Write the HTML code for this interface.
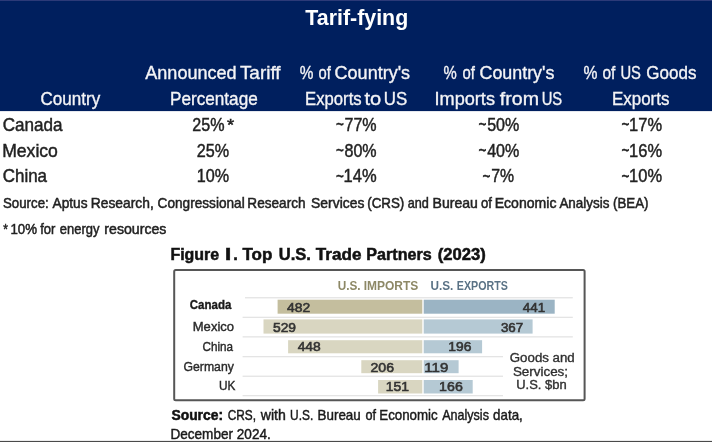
<!DOCTYPE html>
<html><head><meta charset="utf-8"><title>Tarif-fying</title>
<style>
html,body{margin:0;padding:0;background:#fff;overflow:hidden}
body{width:712px;height:442px;font-family:"Liberation Sans",sans-serif}
svg{display:block;font-family:"Liberation Sans",sans-serif;filter:blur(0.45px)}
text{white-space:pre}
</style></head><body>
<svg width="712" height="442" viewBox="0 0 712 442">
<rect x="0" y="0" width="712" height="442" fill="#ffffff"/>
<rect x="0" y="0" width="712" height="111.1" fill="#001f5e"/>
<rect x="0" y="0" width="712" height="1" fill="#2c3a78"/>
<rect x="0" y="440.9" width="712" height="2" fill="#4a4a4a"/>
<g>
<text x="305.30" y="25.3" font-size="21.3" fill="#ffffff" font-weight="700" textLength="102.91" lengthAdjust="spacingAndGlyphs">Tarif-fying</text>
<text x="145.30" y="78.6" font-size="18.2" fill="#f4f4f6" stroke="#f4f4f6" stroke-width="0.35" textLength="91.31" lengthAdjust="spacingAndGlyphs">Announced</text>
<text x="239.90" y="78.6" font-size="18.2" fill="#f4f4f6" stroke="#f4f4f6" stroke-width="0.35" textLength="40.71" lengthAdjust="spacingAndGlyphs">Tariff</text>
<text x="170.06" y="104.6" font-size="18.2" fill="#f4f4f6" stroke="#f4f4f6" stroke-width="0.35" textLength="87.65" lengthAdjust="spacingAndGlyphs">Percentage</text>
<text x="40.50" y="104.6" font-size="18.2" fill="#f4f4f6" stroke="#f4f4f6" stroke-width="0.35" textLength="59.65" lengthAdjust="spacingAndGlyphs">Country</text>
<text x="299.70" y="78.6" font-size="18.2" fill="#f4f4f6" stroke="#f4f4f6" stroke-width="0.35" textLength="13.64" lengthAdjust="spacingAndGlyphs">%</text>
<text x="318.60" y="78.6" font-size="18.2" fill="#f4f4f6" stroke="#f4f4f6" stroke-width="0.35" textLength="12.33" lengthAdjust="spacingAndGlyphs">of</text>
<text x="334.60" y="78.6" font-size="18.2" fill="#f4f4f6" stroke="#f4f4f6" stroke-width="0.35" textLength="75.49" lengthAdjust="spacingAndGlyphs">Country's</text>
<text x="305.08" y="104.6" font-size="18.2" fill="#f4f4f6" stroke="#f4f4f6" stroke-width="0.35" textLength="56.60" lengthAdjust="spacingAndGlyphs">Exports</text>
<text x="364.40" y="104.6" font-size="18.2" fill="#f4f4f6" stroke="#f4f4f6" stroke-width="0.35" textLength="16.73" lengthAdjust="spacingAndGlyphs">to</text>
<text x="383.77" y="104.6" font-size="18.2" fill="#f4f4f6" stroke="#f4f4f6" stroke-width="0.35" textLength="23.45" lengthAdjust="spacingAndGlyphs">US</text>
<text x="443.40" y="78.6" font-size="18.2" fill="#f4f4f6" stroke="#f4f4f6" stroke-width="0.35" textLength="13.24" lengthAdjust="spacingAndGlyphs">%</text>
<text x="462.40" y="78.6" font-size="18.2" fill="#f4f4f6" stroke="#f4f4f6" stroke-width="0.35" textLength="12.42" lengthAdjust="spacingAndGlyphs">of</text>
<text x="479.50" y="78.6" font-size="18.2" fill="#f4f4f6" stroke="#f4f4f6" stroke-width="0.35" textLength="74.89" lengthAdjust="spacingAndGlyphs">Country's</text>
<text x="434.50" y="104.6" font-size="18.2" fill="#f4f4f6" stroke="#f4f4f6" stroke-width="0.35" textLength="60.49" lengthAdjust="spacingAndGlyphs">Imports</text>
<text x="499.80" y="104.6" font-size="18.2" fill="#f4f4f6" stroke="#f4f4f6" stroke-width="0.35" textLength="39.14" lengthAdjust="spacingAndGlyphs">from</text>
<text x="541.69" y="104.6" font-size="18.2" fill="#f4f4f6" stroke="#f4f4f6" stroke-width="0.35" textLength="20.52" lengthAdjust="spacingAndGlyphs">US</text>
<text x="583.40" y="78.6" font-size="18.2" fill="#f4f4f6" stroke="#f4f4f6" stroke-width="0.35" textLength="13.95" lengthAdjust="spacingAndGlyphs">%</text>
<text x="602.50" y="78.6" font-size="18.2" fill="#f4f4f6" stroke="#f4f4f6" stroke-width="0.35" textLength="12.89" lengthAdjust="spacingAndGlyphs">of</text>
<text x="620.39" y="78.6" font-size="18.2" fill="#f4f4f6" stroke="#f4f4f6" stroke-width="0.35" textLength="20.52" lengthAdjust="spacingAndGlyphs">US</text>
<text x="646.30" y="78.6" font-size="18.2" fill="#f4f4f6" stroke="#f4f4f6" stroke-width="0.35" textLength="50.09" lengthAdjust="spacingAndGlyphs">Goods</text>
<text x="611.97" y="104.6" font-size="18.2" fill="#f4f4f6" stroke="#f4f4f6" stroke-width="0.35" textLength="57.42" lengthAdjust="spacingAndGlyphs">Exports</text>
<text x="2.70" y="130.5" font-size="18.2" fill="#222222" stroke="#222222" stroke-width="0.45" textLength="59.87" lengthAdjust="spacingAndGlyphs">Canada</text>
<text x="2.13" y="156.5" font-size="18.2" fill="#222222" stroke="#222222" stroke-width="0.45" textLength="55.78" lengthAdjust="spacingAndGlyphs">Mexico</text>
<text x="2.70" y="182.4" font-size="18.2" fill="#222222" stroke="#222222" stroke-width="0.45" textLength="44.37" lengthAdjust="spacingAndGlyphs">China</text>
<text x="192.30" y="130.5" font-size="18.2" fill="#222222" stroke="#222222" stroke-width="0.45" textLength="32.25" lengthAdjust="spacingAndGlyphs">25%</text>
<text x="226.90" y="130.5" font-size="16" fill="#222222" stroke="#222222" stroke-width="0.45" textLength="7.16" lengthAdjust="spacingAndGlyphs">*</text>
<text x="196.70" y="156.5" font-size="18.2" fill="#222222" stroke="#222222" stroke-width="0.45" textLength="32.35" lengthAdjust="spacingAndGlyphs">25%</text>
<text x="196.71" y="182.4" font-size="18.2" fill="#222222" stroke="#222222" stroke-width="0.45" textLength="32.34" lengthAdjust="spacingAndGlyphs">10%</text>
<text x="335.90" y="129.7" font-size="18.2" fill="#222222" stroke="#222222" stroke-width="0.5" textLength="7.86" lengthAdjust="spacingAndGlyphs">~</text>
<text x="344.50" y="130.5" font-size="18.2" fill="#222222" stroke="#222222" stroke-width="0.45" textLength="32.15" lengthAdjust="spacingAndGlyphs">77%</text>
<text x="335.90" y="155.7" font-size="18.2" fill="#222222" stroke="#222222" stroke-width="0.5" textLength="7.86" lengthAdjust="spacingAndGlyphs">~</text>
<text x="344.50" y="156.5" font-size="18.2" fill="#222222" stroke="#222222" stroke-width="0.45" textLength="32.15" lengthAdjust="spacingAndGlyphs">80%</text>
<text x="335.90" y="181.6" font-size="18.2" fill="#222222" stroke="#222222" stroke-width="0.5" textLength="7.86" lengthAdjust="spacingAndGlyphs">~</text>
<text x="343.59" y="182.4" font-size="18.2" fill="#222222" stroke="#222222" stroke-width="0.45" textLength="33.06" lengthAdjust="spacingAndGlyphs">14%</text>
<text x="478.60" y="129.7" font-size="18.2" fill="#222222" stroke="#222222" stroke-width="0.5" textLength="7.86" lengthAdjust="spacingAndGlyphs">~</text>
<text x="487.20" y="130.5" font-size="18.2" fill="#222222" stroke="#222222" stroke-width="0.45" textLength="32.15" lengthAdjust="spacingAndGlyphs">50%</text>
<text x="478.60" y="155.7" font-size="18.2" fill="#222222" stroke="#222222" stroke-width="0.5" textLength="7.86" lengthAdjust="spacingAndGlyphs">~</text>
<text x="487.20" y="156.5" font-size="18.2" fill="#222222" stroke="#222222" stroke-width="0.45" textLength="32.15" lengthAdjust="spacingAndGlyphs">40%</text>
<text x="482.60" y="181.6" font-size="18.2" fill="#222222" stroke="#222222" stroke-width="0.5" textLength="7.86" lengthAdjust="spacingAndGlyphs">~</text>
<text x="491.20" y="182.4" font-size="18.2" fill="#222222" stroke="#222222" stroke-width="0.45" textLength="22.85" lengthAdjust="spacingAndGlyphs">7%</text>
<text x="621.40" y="129.7" font-size="18.2" fill="#222222" stroke="#222222" stroke-width="0.5" textLength="7.86" lengthAdjust="spacingAndGlyphs">~</text>
<text x="629.09" y="130.5" font-size="18.2" fill="#222222" stroke="#222222" stroke-width="0.45" textLength="32.96" lengthAdjust="spacingAndGlyphs">17%</text>
<text x="621.40" y="155.7" font-size="18.2" fill="#222222" stroke="#222222" stroke-width="0.5" textLength="7.86" lengthAdjust="spacingAndGlyphs">~</text>
<text x="629.09" y="156.5" font-size="18.2" fill="#222222" stroke="#222222" stroke-width="0.45" textLength="32.96" lengthAdjust="spacingAndGlyphs">16%</text>
<text x="621.40" y="181.6" font-size="18.2" fill="#222222" stroke="#222222" stroke-width="0.5" textLength="7.86" lengthAdjust="spacingAndGlyphs">~</text>
<text x="629.09" y="182.4" font-size="18.2" fill="#222222" stroke="#222222" stroke-width="0.45" textLength="32.96" lengthAdjust="spacingAndGlyphs">10%</text>
<text x="3.00" y="208.3" font-size="14.3" fill="#222222" stroke="#222222" stroke-width="0.5" textLength="45.70" lengthAdjust="spacingAndGlyphs">Source:</text>
<text x="52.50" y="208.3" font-size="14.3" fill="#222222" stroke="#222222" stroke-width="0.5" textLength="35.04" lengthAdjust="spacingAndGlyphs">Aptus</text>
<text x="90.73" y="208.3" font-size="14.3" fill="#222222" stroke="#222222" stroke-width="0.5" textLength="63.01" lengthAdjust="spacingAndGlyphs">Research,</text>
<text x="157.60" y="208.3" font-size="14.3" fill="#222222" stroke="#222222" stroke-width="0.5" textLength="87.07" lengthAdjust="spacingAndGlyphs">Congressional</text>
<text x="247.35" y="208.3" font-size="14.3" fill="#222222" stroke="#222222" stroke-width="0.5" textLength="58.20" lengthAdjust="spacingAndGlyphs">Research</text>
<text x="311.10" y="208.3" font-size="14.3" fill="#222222" stroke="#222222" stroke-width="0.5" textLength="53.24" lengthAdjust="spacingAndGlyphs">Services</text>
<text x="367.20" y="208.3" font-size="14.3" fill="#222222" stroke="#222222" stroke-width="0.5" textLength="37.11" lengthAdjust="spacingAndGlyphs">(CRS)</text>
<text x="407.70" y="208.3" font-size="14.3" fill="#222222" stroke="#222222" stroke-width="0.5" textLength="21.16" lengthAdjust="spacingAndGlyphs">and</text>
<text x="432.52" y="208.3" font-size="14.3" fill="#222222" stroke="#222222" stroke-width="0.5" textLength="45.32" lengthAdjust="spacingAndGlyphs">Bureau</text>
<text x="481.00" y="208.3" font-size="14.3" fill="#222222" stroke="#222222" stroke-width="0.5" textLength="10.97" lengthAdjust="spacingAndGlyphs">of</text>
<text x="494.72" y="208.3" font-size="14.3" fill="#222222" stroke="#222222" stroke-width="0.5" textLength="61.73" lengthAdjust="spacingAndGlyphs">Economic</text>
<text x="559.40" y="208.3" font-size="14.3" fill="#222222" stroke="#222222" stroke-width="0.5" textLength="50.14" lengthAdjust="spacingAndGlyphs">Analysis</text>
<text x="613.00" y="208.3" font-size="14.3" fill="#222222" stroke="#222222" stroke-width="0.5" textLength="35.51" lengthAdjust="spacingAndGlyphs">(BEA)</text>
<text x="3.20" y="234.4" font-size="14.3" fill="#222222" stroke="#222222" stroke-width="0.5" textLength="4.64" lengthAdjust="spacingAndGlyphs">*</text>
<text x="10.47" y="234.4" font-size="14.3" fill="#222222" stroke="#222222" stroke-width="0.5" textLength="26.56" lengthAdjust="spacingAndGlyphs">10%</text>
<text x="40.20" y="234.4" font-size="14.3" fill="#222222" stroke="#222222" stroke-width="0.5" textLength="15.18" lengthAdjust="spacingAndGlyphs">for</text>
<text x="59.80" y="234.4" font-size="14.3" fill="#222222" stroke="#222222" stroke-width="0.5" textLength="39.63" lengthAdjust="spacingAndGlyphs">energy</text>
<text x="104.30" y="234.4" font-size="14.3" fill="#222222" stroke="#222222" stroke-width="0.5" textLength="62.15" lengthAdjust="spacingAndGlyphs">resources</text>
</g>
<g style="filter:blur(0.45px)">
<rect x="174.2" y="269.9" width="410.4" height="130.4" rx="1.5" fill="#ffffff" stroke="#565656" stroke-width="2"/>
<rect x="245" y="297.09999999999997" width="327.79999999999995" height="1.3" fill="#e4e4e4"/>
<rect x="242.6" y="316.7" width="330.19999999999993" height="1.3" fill="#e4e4e4"/>
<rect x="242.6" y="336.2" width="330.19999999999993" height="1.3" fill="#e4e4e4"/>
<rect x="242.6" y="356.0" width="260.4" height="1.3" fill="#e4e4e4"/>
<rect x="242.6" y="375.59999999999997" width="260.4" height="1.3" fill="#e4e4e4"/>
<rect x="242.6" y="395.0" width="260.4" height="1.3" fill="#e4e4e4"/>
<rect x="277.6" y="299.7" width="144.7" height="14.0" fill="#c4be9e"/>
<rect x="423.7" y="299.7" width="131.0" height="14.0" fill="#9bb4c4"/>
<rect x="263.5" y="319.4" width="158.8" height="14.2" fill="#d9d6c1"/>
<rect x="423.7" y="319.4" width="108.9" height="14.2" fill="#b5c9d4"/>
<rect x="288.1" y="340.2" width="134.2" height="13.1" fill="#d9d6c1"/>
<rect x="423.7" y="340.2" width="58.4" height="13.1" fill="#b5c9d4"/>
<rect x="361.3" y="360.2" width="61.0" height="13.0" fill="#d9d6c1"/>
<rect x="423.7" y="360.2" width="34.9" height="13.0" fill="#b5c9d4"/>
<rect x="378.1" y="380.0" width="44.2" height="13.5" fill="#d9d6c1"/>
<rect x="423.7" y="380.0" width="49.0" height="13.5" fill="#b5c9d4"/>
<text x="170.40" y="259.8" font-size="16" fill="#111111" font-weight="700" stroke="#111111" stroke-width="0.5" textLength="48.80" lengthAdjust="spacingAndGlyphs">Figure</text>
<text x="225.10" y="259.8" font-size="16" fill="#111111" font-weight="700" stroke="#111111" stroke-width="0.5" textLength="6.22" lengthAdjust="spacingAndGlyphs">I</text>
<text x="233.37" y="259.8" font-size="16" fill="#111111" font-weight="700" stroke="#111111" stroke-width="0.5" textLength="4.59" lengthAdjust="spacingAndGlyphs">.</text>
<text x="242.50" y="259.8" font-size="16" fill="#111111" font-weight="700" stroke="#111111" stroke-width="0.5" textLength="29.86" lengthAdjust="spacingAndGlyphs">Top</text>
<text x="278.80" y="259.8" font-size="16" fill="#111111" font-weight="700" stroke="#111111" stroke-width="0.5" textLength="32.16" lengthAdjust="spacingAndGlyphs">U.S.</text>
<text x="315.80" y="259.8" font-size="16" fill="#111111" font-weight="700" stroke="#111111" stroke-width="0.5" textLength="45.59" lengthAdjust="spacingAndGlyphs">Trade</text>
<text x="366.29" y="259.8" font-size="16" fill="#111111" font-weight="700" stroke="#111111" stroke-width="0.5" textLength="65.41" lengthAdjust="spacingAndGlyphs">Partners</text>
<text x="437.70" y="259.8" font-size="16" fill="#111111" font-weight="700" stroke="#111111" stroke-width="0.5" textLength="48.04" lengthAdjust="spacingAndGlyphs">(2023)</text>
<text x="337.70" y="290.0" font-size="12.2" fill="#8d8866" font-weight="700" textLength="22.87" lengthAdjust="spacingAndGlyphs">U.S.</text>
<text x="363.70" y="290.0" font-size="12.2" fill="#8d8866" font-weight="700" textLength="54.63" lengthAdjust="spacingAndGlyphs">IMPORTS</text>
<text x="430.50" y="290.0" font-size="12.2" fill="#5a7285" font-weight="700" textLength="22.87" lengthAdjust="spacingAndGlyphs">U.S.</text>
<text x="456.80" y="290.0" font-size="12.2" fill="#5a7285" font-weight="700" textLength="51.11" lengthAdjust="spacingAndGlyphs">EXPORTS</text>
<text x="189.80" y="308.6" font-size="12" fill="#1a1a1a" font-weight="700" stroke="#1a1a1a" stroke-width="0.35" textLength="41.49" lengthAdjust="spacingAndGlyphs">Canada</text>
<text x="192.76" y="330.9" font-size="12.6" fill="#2a2a2a" stroke="#2a2a2a" stroke-width="0.4" textLength="41.34" lengthAdjust="spacingAndGlyphs">Mexico</text>
<text x="202.60" y="350.9" font-size="13" fill="#2a2a2a" stroke="#2a2a2a" stroke-width="0.4" textLength="30.51" lengthAdjust="spacingAndGlyphs">China</text>
<text x="183.50" y="370.5" font-size="13" fill="#2a2a2a" stroke="#2a2a2a" stroke-width="0.4" textLength="50.33" lengthAdjust="spacingAndGlyphs">Germany</text>
<text x="218.89" y="390.2" font-size="13" fill="#2a2a2a" stroke="#2a2a2a" stroke-width="0.4" textLength="16.41" lengthAdjust="spacingAndGlyphs">UK</text>
<text x="287.00" y="311.6" font-size="13.4" fill="#333333" stroke="#333333" stroke-width="0.6" textLength="23.16" lengthAdjust="spacingAndGlyphs">482</text>
<text x="273.00" y="331.5" font-size="13.4" fill="#333333" stroke="#333333" stroke-width="0.6" textLength="23.06" lengthAdjust="spacingAndGlyphs">529</text>
<text x="297.70" y="350.8" font-size="13.4" fill="#333333" stroke="#333333" stroke-width="0.6" textLength="23.06" lengthAdjust="spacingAndGlyphs">448</text>
<text x="370.50" y="371.6" font-size="13.4" fill="#333333" stroke="#333333" stroke-width="0.6" textLength="23.47" lengthAdjust="spacingAndGlyphs">206</text>
<text x="385.76" y="390.9" font-size="13.4" fill="#333333" stroke="#333333" stroke-width="0.6" textLength="23.20" lengthAdjust="spacingAndGlyphs">151</text>
<text x="522.80" y="311.6" font-size="13.4" fill="#333333" stroke="#333333" stroke-width="0.6" textLength="22.35" lengthAdjust="spacingAndGlyphs">441</text>
<text x="500.90" y="331.5" font-size="13.4" fill="#333333" stroke="#333333" stroke-width="0.6" textLength="22.35" lengthAdjust="spacingAndGlyphs">367</text>
<text x="448.37" y="350.6" font-size="13.4" fill="#333333" stroke="#333333" stroke-width="0.6" textLength="23.10" lengthAdjust="spacingAndGlyphs">196</text>
<text x="424.38" y="371.6" font-size="13.4" fill="#333333" stroke="#333333" stroke-width="0.6" textLength="23.92" lengthAdjust="spacingAndGlyphs">119</text>
<text x="439.14" y="390.9" font-size="13.4" fill="#333333" stroke="#333333" stroke-width="0.6" textLength="23.63" lengthAdjust="spacingAndGlyphs">166</text>
<text x="509.80" y="362.4" font-size="12" fill="#303030" stroke="#303030" stroke-width="0.35" textLength="64.95" lengthAdjust="spacingAndGlyphs">Goods and</text>
<text x="512.90" y="376.4" font-size="12" fill="#303030" stroke="#303030" stroke-width="0.35" textLength="55.17" lengthAdjust="spacingAndGlyphs">Services;</text>
<text x="516.20" y="389.3" font-size="12" fill="#303030" stroke="#303030" stroke-width="0.35" textLength="50.43" lengthAdjust="spacingAndGlyphs">U.S. $bn</text>
<text x="171.40" y="420.0" font-size="14.5" fill="#111111" font-weight="700" stroke="#111111" stroke-width="0.5" textLength="51.69" lengthAdjust="spacingAndGlyphs">Source:</text>
<text x="227.70" y="420.0" font-size="14.5" fill="#1a1a1a" stroke="#1a1a1a" stroke-width="0.45" textLength="28.34" lengthAdjust="spacingAndGlyphs">CRS,</text>
<text x="260.77" y="420.0" font-size="14.5" fill="#1a1a1a" stroke="#1a1a1a" stroke-width="0.45" textLength="25.09" lengthAdjust="spacingAndGlyphs">with</text>
<text x="290.08" y="420.0" font-size="14.5" fill="#1a1a1a" stroke="#1a1a1a" stroke-width="0.45" textLength="23.17" lengthAdjust="spacingAndGlyphs">U.S.</text>
<text x="317.58" y="420.0" font-size="14.5" fill="#1a1a1a" stroke="#1a1a1a" stroke-width="0.45" textLength="43.18" lengthAdjust="spacingAndGlyphs">Bureau</text>
<text x="365.40" y="420.0" font-size="14.5" fill="#1a1a1a" stroke="#1a1a1a" stroke-width="0.45" textLength="10.55" lengthAdjust="spacingAndGlyphs">of</text>
<text x="379.28" y="420.0" font-size="14.5" fill="#1a1a1a" stroke="#1a1a1a" stroke-width="0.45" textLength="58.45" lengthAdjust="spacingAndGlyphs">Economic</text>
<text x="442.20" y="420.0" font-size="14.5" fill="#1a1a1a" stroke="#1a1a1a" stroke-width="0.45" textLength="46.72" lengthAdjust="spacingAndGlyphs">Analysis</text>
<text x="493.10" y="420.0" font-size="14.5" fill="#1a1a1a" stroke="#1a1a1a" stroke-width="0.45" textLength="29.65" lengthAdjust="spacingAndGlyphs">data,</text>
<text x="170.46" y="439.1" font-size="14.5" fill="#1a1a1a" stroke="#1a1a1a" stroke-width="0.45" textLength="100.30" lengthAdjust="spacingAndGlyphs">December 2024.</text>
</g>
</svg>
</body></html>
